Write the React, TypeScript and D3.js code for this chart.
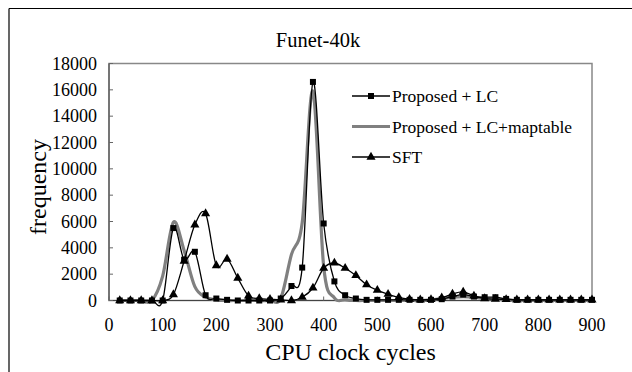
import React from "react";
import * as d3 from "d3";

const xValues = [20, 40, 60, 80, 100, 120, 140, 160, 180, 200, 220, 240, 260, 280, 300, 320, 340, 360, 380, 400, 420, 440, 460, 480, 500, 520, 540, 560, 580, 600, 620, 640, 660, 680, 700, 720, 740, 760, 780, 800, 820, 840, 860, 880, 900];

const proposedLC = [0, 0, 0, 0, 0, 5500, 3100, 3700, 400, 150, 50, 0, 0, 0, 0, 150, 1100, 2500, 16600, 5850, 1450, 400, 150, 50, 50, 50, 50, 50, 50, 50, 100, 300, 450, 300, 250, 250, 120, 50, 50, 50, 50, 50, 50, 50, 50];

const proposedLCMaptable = [0, 0, 0, 0, 1850, 5950, 3800, 1050, 250, 50, 0, 0, 0, 0, 0, 150, 3500, 5900, 15900, 2600, 200, 50, 0, 0, 0, 0, 0, 0, 0, 50, 150, 250, 300, 250, 150, 100, 50, 0, 0, 0, 0, 0, 0, 0, 0];

const sft = [0, 0, 0, 0, 0, 450, 3000, 5750, 6600, 2650, 3150, 1700, 350, 150, 100, 50, 0, 250, 950, 2450, 2850, 2450, 1900, 1200, 780, 480, 230, 100, 50, 80, 200, 500, 650, 350, 150, 100, 80, 50, 50, 50, 50, 50, 50, 50, 50];

const xTicks = [0, 100, 200, 300, 400, 500, 600, 700, 800, 900];
const yTicks = [0, 2000, 4000, 6000, 8000, 10000, 12000, 14000, 16000, 18000];

const title = "Funet-40k";
const xTitle = "CPU clock cycles";
const yTitle = "frequency";
const seriesNames = ["Proposed + LC", "Proposed + LC+maptable", "SFT"];

const FONT = '"Liberation Serif", "Times New Roman", "DejaVu Serif", serif';
const ts = { fontFamily: FONT } as React.CSSProperties;

export default function App() {
  const W = 632;
  const H = 372;
  const left = 109;
  const right = 592;
  const top = 63.5;
  const bottom = 300.5;

  const x = d3.scaleLinear().domain([0, 900]).range([left, right]);
  const y = d3.scaleLinear().domain([0, 18000]).range([bottom, top]);

  const line = d3
    .line<number>()
    .x((_, i) => x(xValues[i]))
    .y((d) => y(d))
    .curve(d3.curveCardinal.tension(0));

  const tri = d3.symbol(d3.symbolTriangle, 36)() as string;

  const legendX1 = 352;
  const legendX2 = 390;
  const legendY = [96, 126.5, 157];

  return (
    <svg
      width={W}
      height={H}
      style={{ position: "absolute", left: 0, top: 0, background: "#fff", fontFamily: FONT }}
    >
      <rect x={0} y={0} width={W} height={H} fill="#fff" />
      <line x1={9} y1={8.5} x2={W} y2={8.5} stroke="#000" strokeWidth={1.2} />
      <line x1={9} y1={8.5} x2={9} y2={H} stroke="#000" strokeWidth={1.2} />

      <text x={318} y={47} textAnchor="middle" fontSize={20.5} fill="#000" style={ts}>
        {title}
      </text>

      <rect
        x={left}
        y={top}
        width={right - left}
        height={bottom - top}
        fill="none"
        stroke="#888"
        strokeWidth={1.5}
      />
      <line x1={left} y1={top} x2={left} y2={bottom} stroke="#555" strokeWidth={1.2} />
      <line x1={left} y1={bottom} x2={right} y2={bottom} stroke="#444" strokeWidth={1.2} />

      {yTicks.map((t) => (
        <g key={"y" + t}>
          <line x1={left} x2={left + 4} y1={y(t)} y2={y(t)} stroke="#666" strokeWidth={1} />
          <text x={97} y={y(t)} dy="0.35em" textAnchor="end" fontSize={18} fill="#000" style={ts}>
            {t}
          </text>
        </g>
      ))}

      {xTicks.map((t) => (
        <g key={"x" + t}>
          <line x1={x(t)} x2={x(t)} y1={bottom} y2={bottom - 4} stroke="#666" strokeWidth={1} />
          <text x={x(t)} y={331} textAnchor="middle" fontSize={18} fill="#000" style={ts}>
            {t}
          </text>
        </g>
      ))}

      <text x={350.5} y={360} textAnchor="middle" fontSize={24} fill="#000" style={ts}>
        {xTitle}
      </text>
      <text
        transform={`translate(46, 187) rotate(-90)`}
        textAnchor="middle"
        fontSize={24}
        fill="#000"
        style={ts}
      >
        {yTitle}
      </text>

      <path d={line(proposedLCMaptable) as string} fill="none" stroke="#808080" strokeWidth={3.2} />
      <path d={line(proposedLC) as string} fill="none" stroke="#000" strokeWidth={1.3} />
      <path d={line(sft) as string} fill="none" stroke="#000" strokeWidth={1.3} />

      {proposedLC.map((v, i) => (
        <rect key={"s" + i} x={x(xValues[i]) - 3} y={y(v) - 3} width={6} height={6} fill="#000" />
      ))}
      {sft.map((v, i) => (
        <path key={"t" + i} d={tri} transform={`translate(${x(xValues[i])},${y(v)})`} fill="#000" />
      ))}

      <line x1={legendX1} x2={legendX2} y1={legendY[0]} y2={legendY[0]} stroke="#000" strokeWidth={1.3} />
      <rect x={(legendX1 + legendX2) / 2 - 3} y={legendY[0] - 3} width={6} height={6} fill="#000" />
      <text x={392} y={legendY[0]} dy="0.35em" fontSize={17.5} fill="#000" style={ts}>
        {seriesNames[0]}
      </text>

      <line x1={legendX1} x2={legendX2} y1={legendY[1]} y2={legendY[1]} stroke="#808080" strokeWidth={3.2} />
      <text x={392} y={legendY[1]} dy="0.35em" fontSize={17.5} fill="#000" style={ts}>
        {seriesNames[1]}
      </text>

      <line x1={legendX1} x2={legendX2} y1={legendY[2]} y2={legendY[2]} stroke="#000" strokeWidth={1.3} />
      <path d={tri} transform={`translate(${(legendX1 + legendX2) / 2},${legendY[2]})`} fill="#000" />
      <text x={392} y={legendY[2]} dy="0.35em" fontSize={17.5} fill="#000" style={ts}>
        {seriesNames[2]}
      </text>
    </svg>
  );
}
